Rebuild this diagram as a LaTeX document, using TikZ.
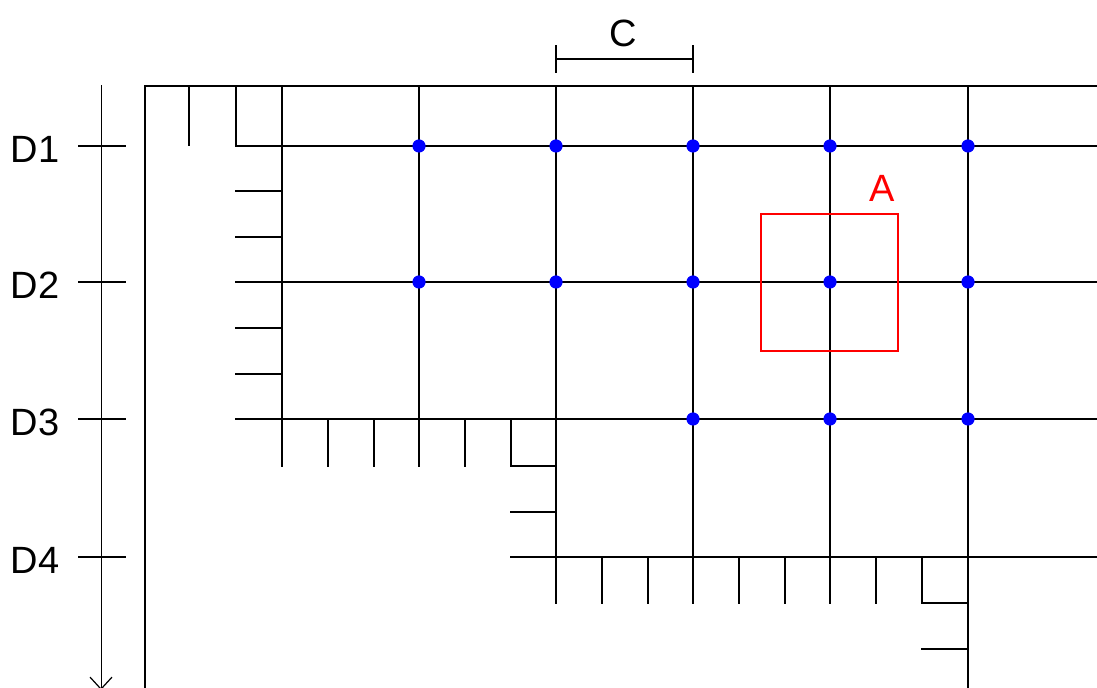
\documentclass[tikz,border=0pt]{standalone}
\usepackage{fontspec}
\setmainfont{Liberation Sans}
\usetikzlibrary{arrows.meta}

\begin{document}
\begin{tikzpicture}[x=0.5pt,y=-0.5pt,line width=1pt,line cap=rect,
dot/.style={circle,fill=blue,inner sep=0pt,minimum size=6.6pt},
lbl/.style={inner sep=0pt,font=\fontsize{19}{22}\selectfont},
axis/.style={line width=0.5pt,-{Straight Barb[length=6pt,width=11pt,line width=0.6pt]}}]
\useasboundingbox (0,0) rectangle (1097,688);
% frame and rows
\draw (145,688) -- (145,86) -- (1097,86);
\draw (189,86) -- (189,145);
\draw (236,86) -- (236,146) -- (1097,146);
\draw (236,282) -- (1097,282);
\draw (236,419) -- (1097,419);
\draw (511,557) -- (1097,557);
% columns
\draw (282,86) -- (282,466);
\draw (419,86) -- (419,466);
\foreach \x in {556,693,830}
  \draw (\x,86) -- (\x,603);
\draw (968,86) -- (968,688);
% short ticks
\foreach \y in {191,237,328,374}
  \draw (236,\y) -- (282,\y);
\foreach \x in {328,374,465}
  \draw (\x,419) -- (\x,466);
\draw (511,419) -- (511,466) -- (556,466);
\draw (511,512) -- (556,512);
\foreach \x in {602,648,739,785,876}
  \draw (\x,557) -- (\x,603);
\draw (922,557) -- (922,603) -- (968,603);
\draw (922,649) -- (968,649);
% points
\foreach \x in {419,556,693,830,968}{
  \node[dot] (p1-\x) at (\x,146) {};
  \node[dot] (p2-\x) at (\x,282) {};
}
\foreach \x in {693,830,968}
  \node[dot] (p3-\x) at (\x,419) {};
% window A
\draw[red,line width=0.7pt] (761,214) rectangle (898,351);
\node[lbl,text=red] (A) at (882,188) {A};
% spacing C
\coordinate (c1) at (556,59);
\coordinate (c2) at (693,59);
\draw (c1) -- (c2);
\draw ([yshift=6.5pt]c1) -- ([yshift=-6.5pt]c1);
\draw ([yshift=6.5pt]c2) -- ([yshift=-6.5pt]c2);
\node[lbl] (C) at (623,33) {C};
% depth axis
\coordinate (top) at (101,86);
\coordinate (bot) at (101,690);
\draw[axis] (top) -- (bot);
\foreach \i/\y in {1/146,2/282,3/419,4/557}{
  \draw[line width=0.7pt] (79,\y) -- (125,\y);
  \node[lbl] (D\i) at (35,\y+3.5) {D\i};
}
\end{tikzpicture}
\end{document}
